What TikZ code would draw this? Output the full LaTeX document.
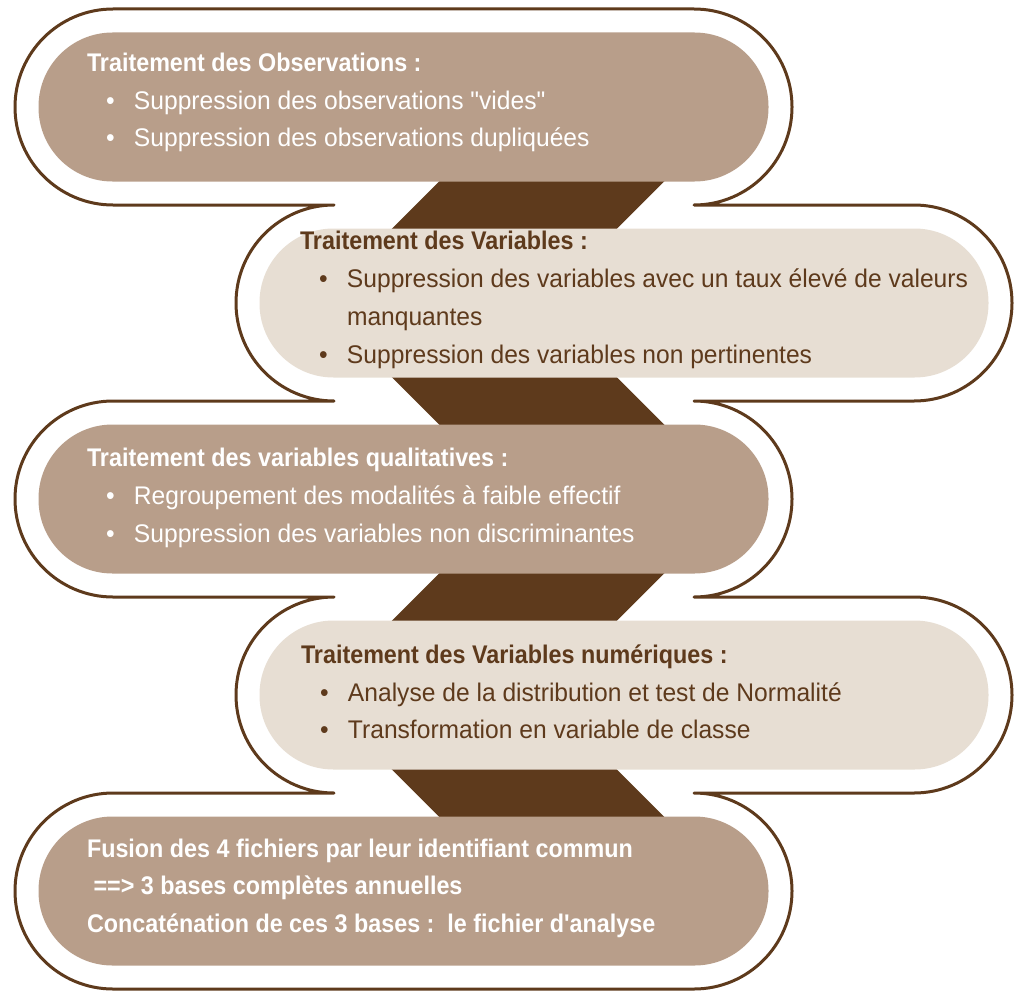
\documentclass[tikz,border=0pt]{standalone}
\usepackage{fontspec}
\newfontfamily\bodyfont{Liberation Sans}[FakeStretch=0.965]
\newfontfamily\headfont{Liberation Sans}[FakeStretch=0.915]
\definecolor{tanbox}{RGB}{184,158,138}
\definecolor{lightbox}{RGB}{231,222,211}
\definecolor{darkbrown}{RGB}{94,58,28}
\newcommand{\boxhead}[1]{{\headfont\bfseries #1}}
\newcommand{\bul}{\makebox[47pt][l]{\hspace{19pt}\textbullet}}
\tikzset{
  steptext/.style={anchor=north west, inner sep=0pt, outer sep=0pt, align=left,
    font={\bodyfont\fontsize{25.5}{37.7}\selectfont}},
}
\begin{document}
\begin{tikzpicture}[x=1pt,y=1pt]
\useasboundingbox (0,0) rectangle (1024,-998);
% contour
\draw [darkbrown, line width=3pt, line join=round] (113,-9) -- (694,-9)
  arc [start angle=90, end angle=-90, radius=98] -- (914,-205)
  arc [start angle=90, end angle=-90, radius=98] -- (694,-401)
  arc [start angle=90, end angle=-90, radius=98] -- (914,-597)
  arc [start angle=90, end angle=-90, radius=98] -- (694,-793)
  arc [start angle=90, end angle=-90, radius=98] -- (113,-989)
  arc [start angle=270, end angle=90, radius=98] -- (334,-793)
  arc [start angle=270, end angle=90, radius=98] -- (113,-597)
  arc [start angle=270, end angle=90, radius=98] -- (334,-401)
  arc [start angle=270, end angle=90, radius=98] -- (113,-205)
  arc [start angle=270, end angle=90, radius=98] -- cycle;
% liaisons
\fill [darkbrown] (443,-177.5) -- (668,-177.5) -- (613,-232.5) -- (388,-232.5) -- cycle;
\fill [darkbrown] (388,-373.5) -- (613,-373.5) -- (668,-428.5) -- (443,-428.5) -- cycle;
\fill [darkbrown] (443,-569.5) -- (668,-569.5) -- (613,-624.5) -- (388,-624.5) -- cycle;
\fill [darkbrown] (388,-765.5) -- (613,-765.5) -- (668,-820.5) -- (443,-820.5) -- cycle;
% boites
\fill [tanbox, rounded corners=74pt] (38.5,-32.5) rectangle (768.5,-181.5);
\fill [lightbox, rounded corners=74pt] (259.5,-228.5) rectangle (988.5,-377.5);
\fill [tanbox, rounded corners=74pt] (38.5,-424.5) rectangle (768.5,-573.5);
\fill [lightbox, rounded corners=74pt] (259.5,-620.5) rectangle (988.5,-769.5);
\fill [tanbox, rounded corners=74pt] (38.5,-816.5) rectangle (768.5,-965.5);
% textes
\node [steptext, white] (obs) at (87,-45.1) {\strut\boxhead{Traitement des Observations :}\\
  \bul Suppression des observations "vides"\\
  \bul Suppression des observations dupliquées};
\node [steptext, darkbrown] (var) at (300,-223.6) {\strut\boxhead{Traitement des Variables :}\\
  \bul Suppression des variables avec un taux élevé de valeurs\\
  \hspace*{47pt}manquantes\\
  \bul Suppression des variables non pertinentes};
\node [steptext, white] (qual) at (87,-440.6) {\strut\boxhead{Traitement des variables qualitatives :}\\
  \bul Regroupement des modalités à faible effectif\\
  \bul Suppression des variables non discriminantes};
\node [steptext, darkbrown] (num) at (301,-637.1) {\strut\boxhead{Traitement des Variables numériques :}\\
  \bul Analyse de la distribution et test de Normalité\\
  \bul Transformation en variable de classe};
\node [steptext, white] (fus) at (87,-830.6) {\strut\boxhead{Fusion des 4 fichiers par leur identifiant commun}\\
  \boxhead{\hspace*{6.5pt}==> 3 bases complètes annuelles}\\
  \boxhead{Concaténation de ces 3 bases :\ \ le fichier d'analyse}};
\end{tikzpicture}
\end{document}
